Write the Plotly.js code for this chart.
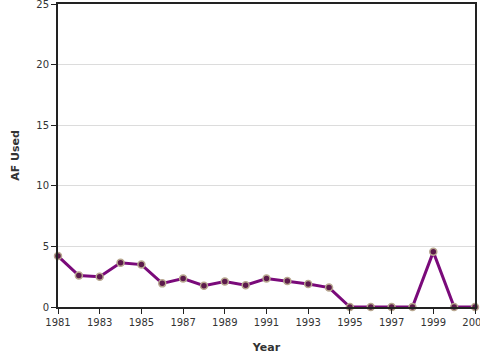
<!DOCTYPE html>
<html><head><meta charset="utf-8">
<script src="https://cdn.plot.ly/plotly-3.0.1.min.js"></script>
<style>html,body{margin:0;padding:0;background:#fff}#c{width:480px;height:360px}</style>
</head><body><div id="c"></div>
<script>
const years = [1981,1982,1983,1984,1985,1986,1987,1988,1989,1990,1991,1992,1993,1994,1995,1996,1997,1998,1999,2000,2001];
const afUsed = [4.2,2.6,2.5,3.65,3.5,1.95,2.35,1.75,2.1,1.8,2.35,2.15,1.9,1.6,0,0,0,0,4.55,0,0];
const xTickVals = [1981,1983,1985,1987,1989,1991,1993,1995,1997,1999,2001];
const yTickVals = [0,5,10,15,20,25];

Plotly.newPlot('c', [{
  x: years, y: afUsed, type: 'scatter', mode: 'lines+markers',
  line: {color: '#7a0a7a', width: 3},
  marker: {color: '#5c1a4c', size: 7, line: {color: '#b8a890', width: 1.5}},
  cliponaxis: false
}], {
  width: 480, height: 360,
  margin: {l: 58, r: 5, t: 4, b: 53},
  paper_bgcolor: '#fff', plot_bgcolor: '#fff',
  font: {family: 'DejaVu Sans', size: 10, color: '#333'},
  showlegend: false,
  xaxis: {
    range: [1981, 2001], tickvals: xTickVals, ticktext: xTickVals.map(String),
    showgrid: false, zeroline: false, showline: true, linecolor: '#222', linewidth: 2, mirror: true,
    ticks: 'outside', ticklen: 5, tickcolor: '#222', ticklabeloverflow: 'allow',
    title: {text: '<b>Year</b>', font: {size: 11}, standoff: 16}
  },
  yaxis: {
    range: [0, 25], tickvals: yTickVals,
    showgrid: true, gridcolor: '#dcdcdc', zeroline: false,
    showline: true, linecolor: '#222', linewidth: 2, mirror: true,
    ticks: 'outside', ticklen: 5, tickcolor: '#222', ticklabeloverflow: 'allow',
    title: {text: '<b>AF Used</b>', font: {size: 11}, standoff: 14}
  }
}, {displayModeBar: false, staticPlot: true});
</script></body></html>
